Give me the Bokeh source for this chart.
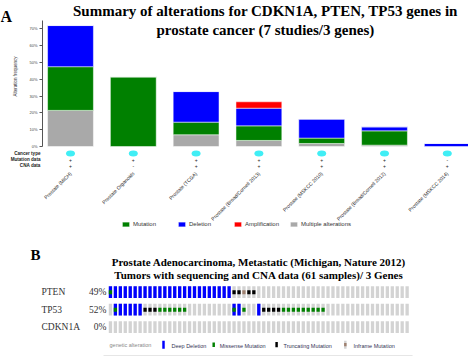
from math import pi

from bokeh.core.properties import value
from bokeh.embed import file_html
from bokeh.layouts import column
from bokeh.models import (ColumnDataSource, FixedTicker, Label, Legend, LegendItem,
                          NumeralTickFormatter, Range1d)
from bokeh.plotting import figure
from bokeh.resources import INLINE

SERIF = "Liberation Serif"
SANS = "Liberation Sans"

# ---------------- Panel A: alteration frequency per prostate study ----------------
studies = ["Prostate (MICH)", "Prostate Organoids", "Prostate (TCGA)",
           "Prostate (Broad/Cornell 2013)", "Prostate (MSKCC 2010)",
           "Prostate (Broad/Cornell 2012)", "Prostate (MSKCC 2014)"]
study_pos = [0, 1, 2, 3, 4, 5, 6]
multiple_alterations = [0.215, 0.000, 0.070, 0.036, 0.018, 0.008, 0.000]
mutation = [0.260, 0.415, 0.075, 0.087, 0.032, 0.085, 0.000]
deletion = [0.245, 0.000, 0.182, 0.105, 0.113, 0.024, 0.018]
amplification = [0.000, 0.000, 0.000, 0.038, 0.000, 0.000, 0.000]
has_mutation_data = ["+", "+", "+", "+", "+", "+", "-"]
has_cna_data = ["+", "-", "+", "+", "+", "+", "+"]
freq_ticks = [0.0, 0.1, 0.2, 0.3, 0.4, 0.5, 0.6, 0.7]
row_names = ["Cancer type", "Mutation data", "CNA data"]
legend_labels = ["Mutation", "Deletion", "Amplification", "Multiple alterations"]

# ---------------- Panel B: oncoprint, 61 samples ----------------
genes = ["PTEN", "TP53", "CDKN1A"]
gene_pct = ["49%", "52%", "0%"]
# one character per sample: D deep deletion, X deep deletion + missense,
# M missense, T truncating, I inframe, . not altered
pten_events = ("X" "DDDDDDDDDDDDDDDDDDDDDDDD" "TTITT"
               ".........." ".........." ".........." ".")
tp53_events = ("." "X" "DDDDD" "TTT" "MMMMMM" "........." "X" "D" "M" ".." "D"
               "TTTT" "MMMMMMMMM" ".........." ".......")
cdkn1a_events = (".........." ".........." ".........." ".........."
                 ".........." ".........." ".")
gene_events = [pten_events, tp53_events, cdkn1a_events]

# ======================= Panel A figure =======================
# the frame fills the whole canvas; the frequency axis is pinned just left of the bars
pA = figure(width=468, height=240, x_range=Range1d(-1.1146, 6.3376),
            y_range=Range1d(-0.5595, 0.869), output_backend="svg",
            toolbar_location=None, x_axis_location=None, min_border=0,
            min_border_left=0, min_border_right=0, min_border_top=0, min_border_bottom=0)
pA.outline_line_color = None
pA.grid.grid_line_color = None

ax = pA.yaxis[0]
ax.fixed_location = -0.4459
ax.ticker = FixedTicker(ticks=freq_ticks)
ax.formatter = NumeralTickFormatter(format="0%")
ax.bounds = (0, 0.75)
ax.major_tick_out = 3
ax.major_tick_in = 0
ax.minor_tick_out = 0
ax.minor_tick_in = 0
ax.major_label_standoff = 2
ax.major_label_text_font = SANS
ax.major_label_text_font_size = "4px"
ax.major_label_text_color = "#444444"
ax.axis_line_color = "#555555"
ax.major_tick_line_color = "#555555"

src_a = ColumnDataSource(dict(x=study_pos, study=studies,
                              multiple=multiple_alterations, mutation=mutation,
                              deletion=deletion, amplification=amplification,
                              mut=has_mutation_data, cna=has_cna_data))
bars = pA.vbar_stack(["multiple", "mutation", "deletion", "amplification"],
                     x="x", width=0.73, source=src_a,
                     fill_color=["#a9a9a9", "#008000", "#0000ff", "#ff0000"],
                     line_color="white", line_width=0.5)

# cancer-type dots and data-availability markers under each bar
row_y = [-0.0417, -0.0774, -0.1131]
pA.ellipse(x="x", y=row_y[0], width=0.143, height=0.036, source=src_a,
           fill_color="#40eef5", line_color=None)
pA.text(x="x", y=row_y[1], text="mut", source=src_a, text_font=value(SANS),
        text_font_size="5px", text_color="#222222", text_align="center",
        text_baseline="middle")
pA.text(x="x", y=row_y[2], text="cna", source=src_a, text_font=value(SANS),
        text_font_size="5px", text_color="#222222", text_align="center",
        text_baseline="middle")
pA.text(x=[-0.4777] * 3, y=row_y, text=row_names, text_font=value(SANS),
        text_font_size="4.6px", text_font_style="bold", text_color="#222222",
        text_align="right", text_baseline="middle")

# rotated study names
pA.text(x="x", y=-0.155, text="study", source=src_a, angle=pi / 4,
        text_font=value(SANS), text_font_size="5px", text_color="#222222",
        text_align="right", text_baseline="middle")

pA.text(x=[-0.876], y=[0.4167], text=["Alteration frequency"], angle=pi / 2,
        text_font=value(SANS), text_font_size="4.5px", text_color="#333333",
        text_align="center", text_baseline="middle")

pA.text(x=[-1.1146], y=[0.774], text=["A"], text_font=value(SERIF), text_font_size="16px",
        text_font_style="bold", text_color="black", text_align="left",
        text_baseline="middle")
pA.add_layout(Label(x=3.105, y=0.8036,
                    text="Summary of alterations for CDKN1A, PTEN, TP53 genes in",
                    text_font=SERIF, text_font_size="15px", text_font_style="bold",
                    text_color="black", text_align="center", text_baseline="middle"))
pA.add_layout(Label(x=3.105, y=0.6905, text="prostate cancer (7 studies/3 genes)",
                    text_font=SERIF, text_font_size="15px", text_font_style="bold",
                    text_color="black", text_align="center", text_baseline="middle"))

legend = Legend(items=[LegendItem(label=legend_labels[0], renderers=[bars[1]]),
                       LegendItem(label=legend_labels[1], renderers=[bars[2]]),
                       LegendItem(label=legend_labels[2], renderers=[bars[3]]),
                       LegendItem(label=legend_labels[3], renderers=[bars[0]])],
                orientation="horizontal", location=(121, 13.5),
                glyph_width=9, glyph_height=6, label_standoff=3, label_width=44,
                label_height=6, spacing=0, padding=0, margin=0,
                border_line_color=None, background_fill_alpha=0,
                label_text_font=SANS, label_text_font_size="6px",
                label_text_color="#333333")
pA.add_layout(legend)

# ======================= Panel B figure =======================
pB = figure(width=468, height=119, x_range=Range1d(-22.235, 72.41),
            y_range=Range1d(3.846, -2.954), output_backend="svg",
            toolbar_location=None, x_axis_location=None, y_axis_location=None,
            min_border=0, min_border_left=0, min_border_right=0,
            min_border_top=0, min_border_bottom=0)
pB.outline_line_color = None
pB.grid.grid_line_color = None

mark_color = {"X": "#008000", "M": "#008000", "T": "#000000", "I": "#9f8170"}
bg = dict(x=[], y=[])
deep = dict(x=[], y=[])
marks = dict(x=[], y=[], c=[])
for row, events in enumerate(gene_events):
    for s, code in enumerate(events):
        bg["x"].append(s)
        bg["y"].append(row)
        if code in "DX":
            deep["x"].append(s)
            deep["y"].append(row)
        if code in mark_color:
            marks["x"].append(s)
            marks["y"].append(row)
            marks["c"].append(mark_color[code])

cell_w, cell_h = 0.667, 0.668
pB.rect(x="x", y="y", width=cell_w, height=cell_h, source=ColumnDataSource(bg),
        fill_color="#d3d3d3", line_color=None)
pB.rect(x="x", y="y", width=cell_w, height=cell_h, source=ColumnDataSource(deep),
        fill_color="#0000ff", line_color=None)
pB.rect(x="x", y="y", width=cell_w, height=cell_h / 3, source=ColumnDataSource(marks),
        fill_color="c", line_color=None)

pB.text(x=[-13.94] * len(genes), y=[0, 1, 2], text=genes, text_font=value(SERIF),
        text_font_size="9.5px", text_color="#333333", text_align="left",
        text_baseline="middle")
pB.text(x=[-0.8] * len(genes), y=[0, 1, 2], text=gene_pct, text_font=value(SERIF),
        text_font_size="9.5px", text_color="#333333", text_align="right",
        text_baseline="middle")

pB.text(x=[-16.17], y=[-2.097], text=["B"], text_font=value(SERIF), text_font_size="15px",
        text_font_style="bold", text_color="black", text_align="left",
        text_baseline="middle")
pB.text(x=[30, 30], y=[-1.754, -1.011],
        text=["Prostate Adenocarcinoma, Metastatic (Michigan, Nature 2012)",
              "Tumors with sequencing and CNA data (61 samples)/ 3 Genes"],
        text_font=value(SERIF), text_font_size="11px", text_font_style="bold",
        text_color="black", text_align="center", text_baseline="middle")

# oncoprint key
pB.text(x=[-0.19], y=[3.0], text=["genetic alteration"], text_font=value(SANS),
        text_font_size="5.5px", text_color="#888888", text_align="left",
        text_baseline="middle")
pB.rect(x=[10.73], y=[3.0], width=0.5, height=0.46, fill_color="#0000ff", line_color=None)
pB.rect(x=[20.88], y=[3.0], width=0.5, height=0.26, fill_color="#008000", line_color=None)
pB.rect(x=[33.6], y=[3.0], width=0.5, height=0.3, fill_color="#000000", line_color=None)
pB.rect(x=[47.5], y=[3.0], width=0.5, height=0.46, fill_color="#d3d3d3", line_color=None)
pB.rect(x=[47.5], y=[3.0], width=0.5, height=0.18, fill_color="#9f8170", line_color=None)
pB.text(x=[12.34, 22.1, 35.0, 49.15], y=[3.05] * 4,
        text=["Deep Deletion", "Missense Mutation", "Truncating Mutation", "Inframe Mutation"],
        text_font=value(SANS), text_font_size="5.5px", text_color="#333355",
        text_align="left", text_baseline="middle")
pB.segment(x0=[-1.4], y0=[3.617], x1=[61.1], y1=[3.617], line_color="#e6e6e6", line_width=1)

layout = column(pA, pB)
open("out.html", "w").write(file_html(layout, INLINE))
